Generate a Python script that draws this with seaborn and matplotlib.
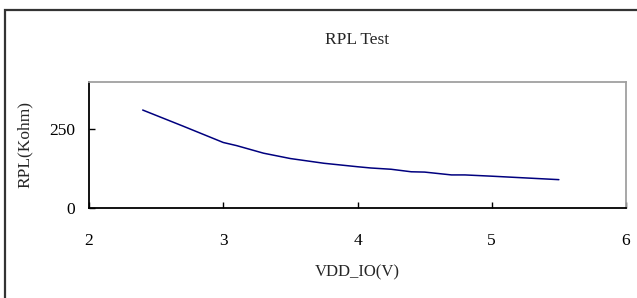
import matplotlib
matplotlib.use("Agg")
import matplotlib.pyplot as plt
from matplotlib.patches import Rectangle
import pandas as pd
import seaborn as sns

# values
vdd_io = [2.4, 2.7, 3.0, 3.1, 3.3, 3.5, 3.75, 4.0, 4.1, 4.25, 4.4, 4.5, 4.7, 4.8, 5.0, 5.5]
rpl_kohm = [311, 260, 208, 198, 174, 157, 142, 131, 127, 123, 115, 114, 105, 105, 101, 90]

x_ticks = [2, 3, 4, 5, 6]
y_ticks = [0, 250]

sns.set_theme(style="white")
plt.rcParams["font.family"] = ["Liberation Serif", "DejaVu Serif"]

df = pd.DataFrame({"VDD_IO(V)": vdd_io, "RPL(Kohm)": rpl_kohm})

fig = plt.figure(figsize=(6.37, 2.98), dpi=100)
ax = fig.add_axes([89 / 637, 1 - 208 / 298, (626 - 89) / 637, (208 - 82) / 298])

sns.lineplot(data=df, x="VDD_IO(V)", y="RPL(Kohm)", ax=ax, color="#00007f", linewidth=1.1)

ax.set_xlim(2, 6)
ax.set_ylim(0, 400)
ax.set_xticks(x_ticks)
ax.set_yticks(y_ticks)
ax.tick_params(axis="both", bottom=True, left=True, direction="in", length=4, width=1,
               color="black", labelsize=12.5, labelcolor="black")
ax.tick_params(axis="x", pad=18)
ax.tick_params(axis="y", pad=10)

for side in ["left", "bottom"]:
    ax.spines[side].set_color("black")
    ax.spines[side].set_linewidth(1.3)
for side in ["top", "right"]:
    ax.spines[side].set_color("#a0a0a0")
    ax.spines[side].set_linewidth(1.3)
    ax.spines[side].set_visible(True)

ax.set_xlabel("")
ax.set_ylabel("")
fig.text(0.5 * (89 + 626) / 637, 1 - 40 / 298, "RPL Test", ha="center", va="center", fontsize=12.5)
fig.text(0.5 * (89 + 626) / 637, 1 - 272 / 298, "VDD_IO(V)", ha="center", va="center", fontsize=12)
fig.text(25 / 637, 1 - 145 / 298, "RPL(Kohm)", ha="center", va="center", rotation=90, fontsize=12.5)

# outer chart border, cut off on the right and bottom like the source
fig.patches.append(Rectangle((5 / 637, -0.1), 1.2, 1.1 - 10 / 298, transform=fig.transFigure,
                             fill=False, edgecolor="#333333", linewidth=1.6))

fig.savefig("out.png", dpi=100)
